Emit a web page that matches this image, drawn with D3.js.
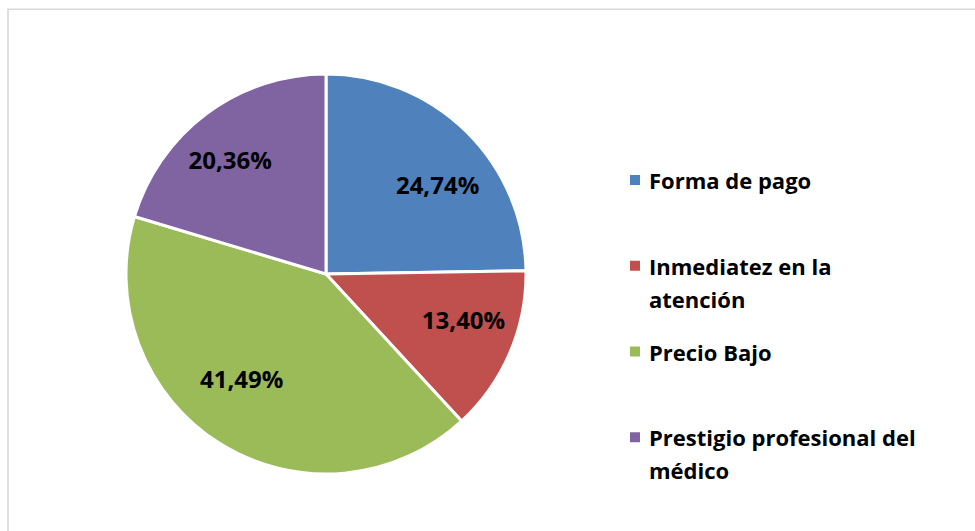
<!DOCTYPE html>
<html>
<head>
<meta charset="utf-8">
<script src="https://cdn.jsdelivr.net/npm/d3@7"></script>
<style>
  html, body { margin: 0; padding: 0; background: #fff; }
  svg { display: block; }
  text { font-family: "Open Sans", "DejaVu Sans", sans-serif; font-weight: 700; fill: #000; }
</style>
</head>
<body>
<svg id="chart" width="975" height="531"></svg>
<script>
// Factores de preferencia (porcentaje de respuestas)
const categories = ["Forma de pago", "Inmediatez en la atención", "Precio Bajo", "Prestigio profesional del médico"];
const legendLines = [["Forma de pago"], ["Inmediatez en la", "atención"], ["Precio Bajo"], ["Prestigio profesional del", "médico"]];
const values = [24.74, 13.40, 41.49, 20.36];
const colors = ["#4F81BD", "#C0504D", "#9BBB59", "#8064A2"];

// Small offsets that move each percentage label off its arc centroid
const labelNudge = [[12, 13], [7, -9], [-9, -15], [-11, 1]];

const svg = d3.select("#chart");
const W = 975, H = 531;

// Outer frame (only the left and top edges fall inside the view)
svg.append("path")
  .attr("d", `M8,${H + 2} V9.3 H${W + 2}`)
  .attr("fill", "none")
  .attr("stroke", "#d9d9d9")
  .attr("stroke-width", 1.6);

const cx = 326, cy = 274, R = 200;
const fmt = v => d3.format(".2f")(v).replace(".", ",") + "%";

const pie = d3.pie().sort(null).value(d => d.value);
const data = categories.map((c, i) => ({ name: c, value: values[i], i }));
const arcs = pie(data);

const arc = d3.arc().innerRadius(0).outerRadius(R);
const labelArc = d3.arc().innerRadius(R * 0.71).outerRadius(R * 0.71);

const g = svg.append("g").attr("transform", `translate(${cx},${cy})`);

g.selectAll("path.slice")
  .data(arcs)
  .join("path")
  .attr("class", "slice")
  .attr("d", arc)
  .attr("fill", d => colors[d.data.i])
  .attr("stroke", "#fff")
  .attr("stroke-width", 3)
  .attr("stroke-linejoin", "round");

g.selectAll("text.pct")
  .data(arcs)
  .join("text")
  .attr("class", "pct")
  .attr("transform", d => {
    const [x, y] = labelArc.centroid(d);
    const [nx, ny] = labelNudge[d.data.i];
    return `translate(${x + nx},${y + ny})`;
  })
  .attr("text-anchor", "middle")
  .attr("dy", "0.35em")
  .style("font-size", "24px")
  .text(d => fmt(d.data.value));

// Legend
const ly = d3.scaleBand().domain(categories).range([160, 503]);
const legend = svg.append("g");
const item = legend.selectAll("g.item")
  .data(categories)
  .join("g")
  .attr("class", "item")
  .attr("transform", d => `translate(0,${ly(d) + 29})`);

item.append("rect")
  .attr("x", 630)
  .attr("y", -14)
  .attr("width", 10)
  .attr("height", 10)
  .attr("fill", (d, i) => colors[i]);

item.append("text")
  .attr("x", 649)
  .attr("y", 0)
  .style("font-size", "22px")
  .selectAll("tspan")
  .data((d, i) => legendLines[i])
  .join("tspan")
  .attr("x", 649)
  .attr("dy", (t, j) => j === 0 ? 0 : 33)
  .text(t => t);
</script>
</body>
</html>
